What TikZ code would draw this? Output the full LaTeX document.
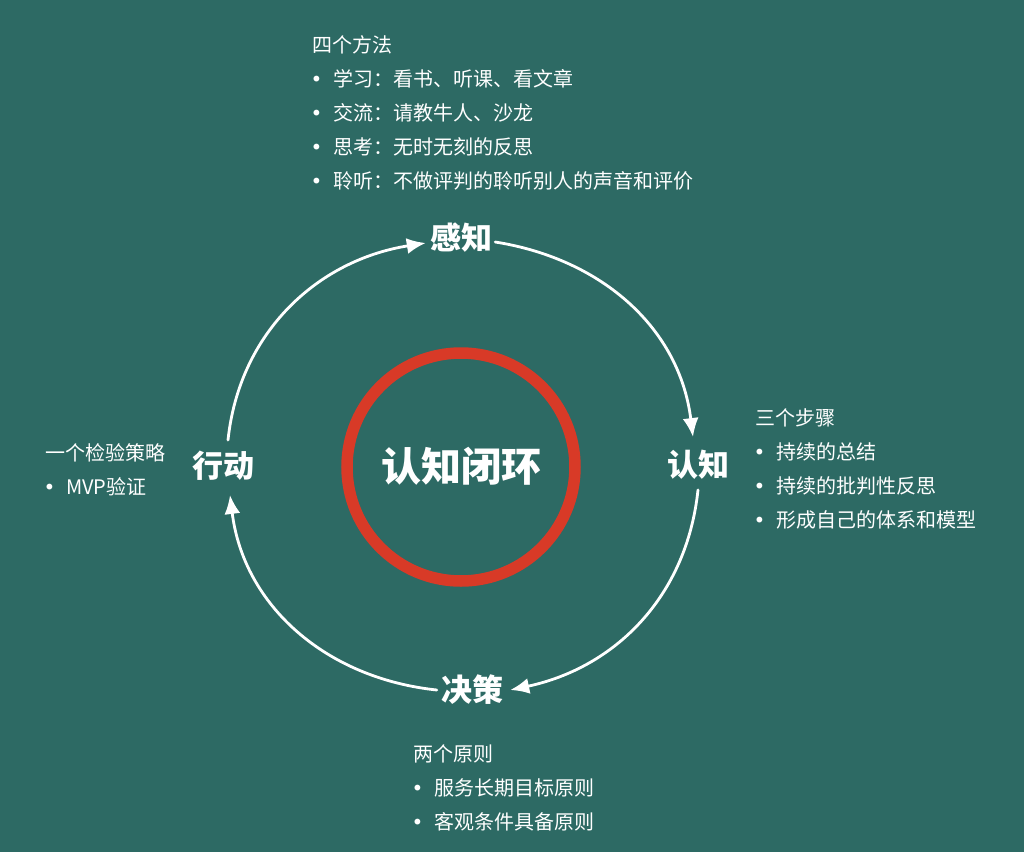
\documentclass[tikz,border=0pt]{standalone}
\usepackage{fontspec}
\setmainfont{Noto Sans CJK SC}
\newfontfamily\punktfont{DejaVu Sans}
\usetikzlibrary{arrows.meta}
\definecolor{tafel}{HTML}{2D6A64}
\definecolor{rot}{HTML}{D83A27}
\newcommand{\pkt}{\makebox[21pt][l]{\hspace{-1.5pt}{\punktfont\fontsize{20}{20}\selectfont •}}}
\tikzset{
  bogen/.style={-{Latex[length=19pt,width=16pt]},white,line width=2.8pt,line cap=round},
  stufe/.style={white,font=\fontsize{31}{31}\selectfont\bfseries,inner sep=1pt},
  liste/.style={white,anchor=north west,align=left,inner sep=0pt,font=\fontsize{20}{34}\selectfont},
  ring/.style={rot,line width=11.5pt},
}

\begin{document}
\begin{tikzpicture}[x=1pt,y=1pt]
  \fill[tafel] (-460,-387) rectangle (564,465);
  \useasboundingbox (-460,-387) rectangle (564,465);
  \draw[ring] (1,-2) circle (114);
  \node[white,font=\fontsize{40}{40}\selectfont\bfseries] (mitte) at (1,-1) {认知闭环};
  \node[stufe] (gz) at (1,227) {感知};
  \node[stufe] (rz) at (238,0) {认知};
  \node[stufe] (jc) at (12,-225) {决策};
  \node[stufe] (xd) at (-236,-1) {行动};
  \draw[bogen] ([shift={(4pt,10pt)}]xd.north) to[out=84,in=189] ([shift={(-3pt,-5pt)}]gz.west);
  \draw[bogen] ([shift={(2pt,-4pt)}]gz.east) to[out=-9,in=97] ([shift={(-5pt,12pt)}]rz.north);
  \draw[bogen] ([yshift=-9pt]rz.south) to[out=-96,in=12] ([xshift=6pt]jc.east);
  \draw[bogen] ([xshift=-3pt]jc.west) to[out=174,in=-83] ([shift={(6pt,-13pt)}]xd.south);
  \node[liste] (fangfa) at (-148,430) {四个方法\\
    \pkt 学习：看书、听课、看文章\\
    \pkt 交流：请教牛人、沙龙\\
    \pkt 思考：无时无刻的反思\\
    \pkt 聆听：不做评判的聆听别人的声音和评价};
  \node[liste] (buzhou) at (295,57) {三个步骤\\
    \pkt 持续的总结\\
    \pkt 持续的批判性反思\\
    \pkt 形成自己的体系和模型};
  \node[liste] (celve) at (-415,22) {一个检验策略\\
    \pkt MVP验证};
  \node[liste] (yuanze) at (-47,-279) {两个原则\\
    \pkt 服务长期目标原则\\
    \pkt 客观条件具备原则};
\end{tikzpicture}
\end{document}
